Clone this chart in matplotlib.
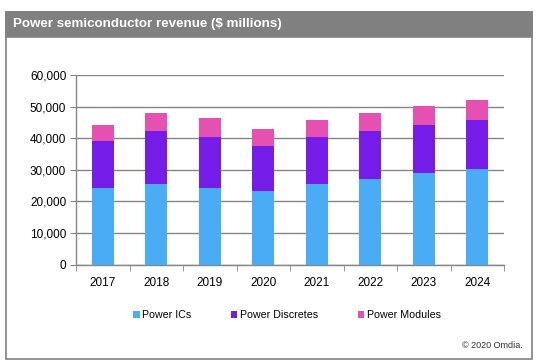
import matplotlib
matplotlib.use("Agg")
import matplotlib.pyplot as plt
from matplotlib.patches import Rectangle
from matplotlib.ticker import FuncFormatter, FixedLocator
import numpy as np

# ==========================================
# 数据
# ==========================================

years = ["2017", "2018", "2019", "2020", "2021", "2022", "2023", "2024"]
power_ics = [24200, 25450, 24200, 23250, 25450, 27050, 28950, 30200]
power_discretes = [14900, 16800, 16150, 14250, 14900, 15200, 15200, 15550]
power_modules = [5050, 5700, 6000, 5400, 5400, 5700, 6000, 6350]

series_names = ["Power ICs", "Power Discretes", "Power Modules"]
series_colors = ["#4BACF6", "#761CE8", "#E651B1"]

W, H = 547, 363

plt.rcParams["font.family"] = ["Liberation Sans", "DejaVu Sans"]

fig = plt.figure(figsize=(W / 100, H / 100), dpi=100)


def px_box(x0, y0, x1, y1):
    # 像素坐标 -> figure 坐标
    return [x0 / W, 1 - y1 / H, (x1 - x0) / W, (y1 - y0) / H]


# 外框与标题栏
frame = Rectangle((6 / W, 1 - 359 / H), 525.5 / W, 347 / H,
                  transform=fig.transFigure, facecolor="white",
                  edgecolor="#808080", linewidth=1.2, zorder=-2)
fig.patches.append(frame)
title_bar = Rectangle((6 / W, 1 - 36.5 / H), 525.5 / W, 24.5 / H,
                      transform=fig.transFigure, facecolor="#808080",
                      edgecolor="#808080", linewidth=1.2, zorder=-1)
fig.patches.append(title_bar)
fig.text(13 / W, 1 - 24.5 / H, "Power semiconductor revenue ($ millions)",
         color="white", fontsize=9.6, fontweight="bold", va="center", ha="left")

# ==========================================
# 堆叠柱状图
# ==========================================

ax = fig.add_axes(px_box(76, 75, 504, 264.5))
ax.set_zorder(2)
ax.patch.set_visible(False)
x = np.arange(len(years))
bar_width = 0.41

ics = np.array(power_ics)
disc = np.array(power_discretes)
mods = np.array(power_modules)

b1 = ax.bar(x, ics, width=bar_width, color=series_colors[0], zorder=3)
b2 = ax.bar(x, disc, width=bar_width, bottom=ics, color=series_colors[1], zorder=3)
b3 = ax.bar(x, mods, width=bar_width, bottom=ics + disc, color=series_colors[2], zorder=3)

ax.set_xlim(-0.5, len(years) - 0.5)
ax.set_ylim(0, 60000)
ax.set_yticks(np.arange(0, 60001, 10000))
ax.yaxis.set_major_formatter(FuncFormatter(lambda v, p: f"{int(v):,}"))
ax.set_xticks(x)
ax.set_xticklabels(years)
ax.xaxis.set_minor_locator(FixedLocator(np.arange(-0.5, len(years), 1.0)))

ax.grid(axis="y", color="#868686", linewidth=1.0, zorder=0)
for side in ["top", "right"]:
    ax.spines[side].set_visible(False)
for side in ["left", "bottom"]:
    ax.spines[side].set_color("#868686")
    ax.spines[side].set_linewidth(1.0)

ax.tick_params(axis="x", which="major", length=0, pad=9, labelsize=8.5, colors="black")
ax.tick_params(axis="x", which="minor", length=4, color="#868686", direction="out")
ax.tick_params(axis="y", length=4, color="#868686", labelsize=8.5, pad=3)

# 图例
fig.legend([b1, b2, b3], series_names, loc="center",
           bbox_to_anchor=(287 / W, 1 - 315 / H), ncol=3, frameon=False,
           fontsize=7.7, handlelength=0.6, handleheight=0.6, handletextpad=0.25,
           columnspacing=3.7)

fig.text(523 / W, 1 - 345 / H, "© 2020 Omdia.", fontsize=6.5,
         ha="right", va="center", color="#333333")

fig.savefig("out.png", dpi=100)
